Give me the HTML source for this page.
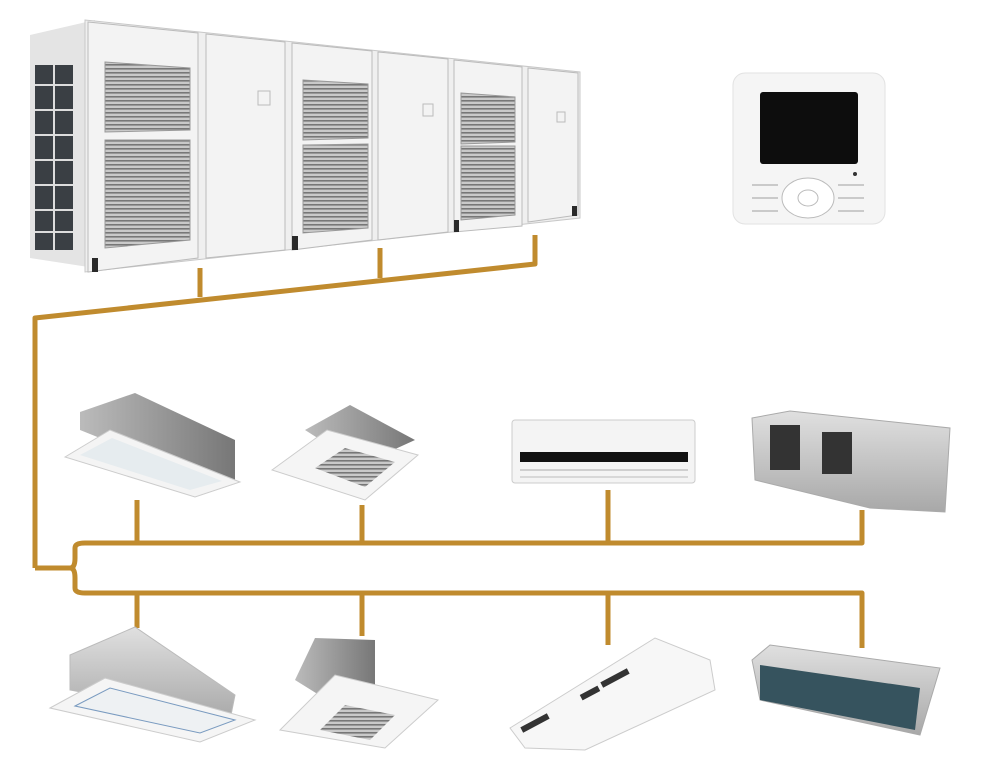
<!DOCTYPE html>
<html><head><style>html,body{margin:0;padding:0;background:#fff}svg{display:block}</style></head>
<body>
<svg width="995" height="775" viewBox="0 0 995 775" xmlns="http://www.w3.org/2000/svg">
<defs>
<linearGradient id="gs" x1="0" y1="0" x2="1" y2="0"><stop offset="0" stop-color="#bbb"/><stop offset="1" stop-color="#777"/></linearGradient>
<linearGradient id="gs2" x1="0" y1="0" x2="0" y2="1"><stop offset="0" stop-color="#e0e0e0"/><stop offset="1" stop-color="#a8a8a8"/></linearGradient>
<pattern id="grill" width="4" height="4" patternUnits="userSpaceOnUse"><rect width="4" height="4" fill="#c9c9c9"/><rect width="4" height="1.6" fill="#777"/></pattern>
</defs>

<!-- outdoor unit -->
<polygon points="30,35 95,20 95,268 30,258" fill="#e4e4e4"/>
<rect x="35" y="65" width="38" height="185" fill="#3a3f44"/>
<g stroke="#ddd" stroke-width="2">
<line x1="35" y1="85" x2="73" y2="85"/><line x1="35" y1="110" x2="73" y2="110"/><line x1="35" y1="135" x2="73" y2="135"/><line x1="35" y1="160" x2="73" y2="160"/><line x1="35" y1="185" x2="73" y2="185"/><line x1="35" y1="210" x2="73" y2="210"/><line x1="35" y1="232" x2="73" y2="232"/>
<line x1="54" y1="65" x2="54" y2="250"/></g>
<polygon points="85,20 580,72 580,218 85,272" fill="#efefef" stroke="#c8c8c8"/>
<g fill="#f3f3f3" stroke="#bbb">
<polygon points="88,22 198,33 198,258 88,272"/>
<polygon points="206,34 285,42 285,250 206,258"/>
<polygon points="292,43 372,51 372,240 292,250"/>
<polygon points="378,52 448,59 448,232 378,240"/>
<polygon points="454,60 522,67 522,226 454,232"/>
<polygon points="528,68 578,73 578,215 528,222"/>
</g>
<g fill="url(#grill)" stroke="#999">
<polygon points="105,62 190,68 190,130 105,132"/>
<polygon points="105,140 190,140 190,240 105,248"/>
<polygon points="303,80 368,84 368,138 303,140"/>
<polygon points="303,145 368,144 368,228 303,233"/>
<polygon points="461,93 515,97 515,142 461,144"/>
<polygon points="461,146 515,146 515,215 461,220"/>
</g>
<g fill="#2a2a2a"><rect x="92" y="258" width="6" height="14"/><rect x="292" y="236" width="6" height="14"/><rect x="454" y="220" width="5" height="12"/><rect x="572" y="206" width="5" height="10"/></g>
<g fill="none" stroke="#bbb"><rect x="258" y="91" width="12" height="14"/><rect x="423" y="104" width="10" height="12"/><rect x="557" y="112" width="8" height="10"/></g>

<!-- controller -->
<rect x="733" y="73" width="152" height="151" rx="12" fill="#f5f5f5" stroke="#e2e2e2"/>
<rect x="760" y="92" width="98" height="72" rx="3" fill="#0d0d0d"/>
<ellipse cx="808" cy="198" rx="26" ry="20" fill="#fff" stroke="#bbb"/>
<ellipse cx="808" cy="198" rx="10" ry="8" fill="#fff" stroke="#bbb"/>
<g stroke="#bbb" stroke-width="1.5"><line x1="752" y1="185" x2="778" y2="185"/><line x1="752" y1="198" x2="778" y2="198"/><line x1="752" y1="211" x2="778" y2="211"/><line x1="838" y1="185" x2="864" y2="185"/><line x1="838" y1="198" x2="864" y2="198"/><line x1="838" y1="211" x2="864" y2="211"/></g>
<circle cx="855" cy="174" r="2" fill="#333"/>

<!-- pipes -->
<g fill="none" stroke="#c08b2e" stroke-width="5" stroke-linejoin="round">
<polyline points="35,568 35,318 535,264 535,235"/>
<line x1="200" y1="297" x2="200" y2="268"/>
<line x1="380" y1="278" x2="380" y2="248"/>
<path d="M35,568 H70 Q75,568 75,558 V548 Q75,543 85,543 H862 V510"/>
<path d="M70,568 Q75,568 75,578 V588 Q75,593 85,593 H862 V648"/>
<line x1="137" y1="500" x2="137" y2="543"/>
<line x1="362" y1="505" x2="362" y2="543"/>
<line x1="608" y1="490" x2="608" y2="543"/>
<line x1="137" y1="593" x2="137" y2="628"/>
<line x1="362" y1="593" x2="362" y2="636"/>
<line x1="608" y1="593" x2="608" y2="645"/>
</g>

<!-- top row indoor -->
<polygon points="80,412 135,393 235,440 235,480 180,470 80,430" fill="url(#gs)"/>
<polygon points="65,457 110,430 240,482 195,497" fill="#f4f4f4" stroke="#ccc"/>
<polygon points="80,455 112,438 222,481 190,490" fill="#e6ecef"/>

<polygon points="305,430 350,405 415,440 360,465" fill="url(#gs)"/>
<polygon points="272,470 327,430 418,455 365,500" fill="#f5f5f5" stroke="#ccc"/>
<polygon points="315,468 345,448 395,462 365,487" fill="url(#grill)"/>

<rect x="512" y="420" width="183" height="63" rx="3" fill="#f4f4f4" stroke="#ccc"/>
<rect x="520" y="452" width="168" height="10" fill="#111"/>
<line x1="520" y1="470" x2="688" y2="470" stroke="#aaa"/>
<line x1="520" y1="477" x2="688" y2="477" stroke="#bbb"/>
<polygon points="752,418 790,411 950,428 945,512 870,508 755,480" fill="url(#gs2)" stroke="#aaa"/>
<rect x="770" y="425" width="30" height="45" fill="#333"/><rect x="822" y="432" width="30" height="42" fill="#333"/>

<!-- bottom row indoor -->
<polygon points="70,655 135,627 235,695 230,720 70,690" fill="url(#gs2)" stroke="#bbb"/>
<polygon points="50,708 105,678 255,720 200,742" fill="#f5f5f5" stroke="#ccc"/>
<polygon points="75,706 110,688 235,720 200,733" fill="#eef1f3" stroke="#7a9bc0"/>

<polygon points="295,680 315,638 375,640 375,690 340,708" fill="url(#gs)"/>
<polygon points="280,730 335,675 438,700 385,748" fill="#f5f5f5" stroke="#ccc"/>
<polygon points="320,730 345,705 395,715 370,740" fill="url(#grill)"/>

<polygon points="510,728 655,638 710,660 715,690 585,750 525,748" fill="#f7f7f7" stroke="#ccc"/>
<g fill="#333"><rect x="600" y="675" width="30" height="6" transform="rotate(-28 615 678)"/><rect x="580" y="690" width="20" height="6" transform="rotate(-28 590 693)"/><rect x="520" y="720" width="30" height="6" transform="rotate(-28 535 723)"/></g>

<polygon points="752,660 770,645 940,668 920,735 760,700" fill="url(#gs2)" stroke="#aaa"/>
<polygon points="760,665 920,688 915,730 760,700" fill="#36535e"/>
</svg>
</body></html>
